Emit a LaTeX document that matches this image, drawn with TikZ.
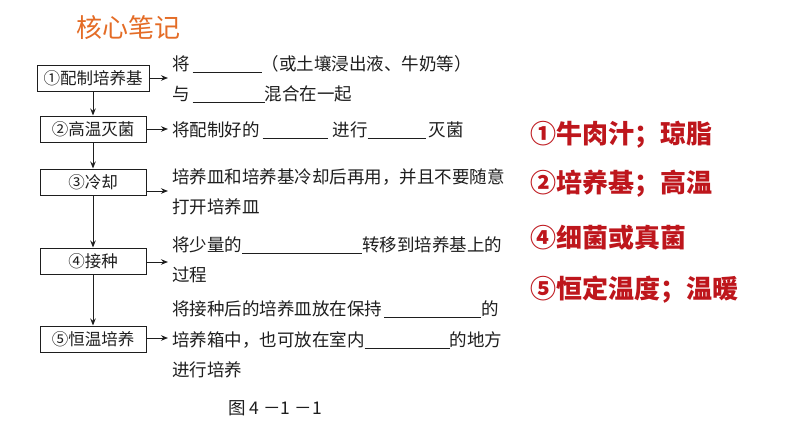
\documentclass[tikz,border=0pt]{standalone}
\usepackage{fontspec}
\newfontfamily\cjk{Noto Sans CJK SC}
\usetikzlibrary{arrows.meta}
\definecolor{titleorange}{RGB}{228,108,38}
\definecolor{ansred}{RGB}{190,22,28}
\definecolor{ink}{RGB}{30,30,30}
\newcommand{\blank}[1]{\rule[-2pt]{#1pt}{0.7pt}}

\begin{document}
\begin{tikzpicture}[x=1pt,y=-1pt,>={Stealth[length=7pt,width=5.5pt]},
    stepbox/.style={draw=ink,line width=1pt,minimum width=106pt,minimum height=26pt,inner sep=1pt,text=ink,font=\cjk\fontsize{16.5}{16.5}\selectfont},
    note/.style={anchor=west,inner sep=0pt,text=ink,font=\cjk\fontsize{17.5}{17.5}\selectfont},
    answer/.style={anchor=west,inner sep=0pt,text=ansred,font=\cjk\bfseries\fontsize{26}{26}\selectfont},
    link/.style={->,draw=ink,line width=1pt}]
            \useasboundingbox[fill=white] (0,0) rectangle (794,447);
            % title
            \node[anchor=west,inner sep=0pt,text=titleorange,font=\cjk\fontsize{26}{26}\selectfont] (title) at (76,28) {核心笔记};
            % steps
            \node[stepbox,minimum width=112pt] (s1) at (93,78) {①配制培养基};
            \node[stepbox] (s2) at (93,129) {②高温灭菌};
            \node[stepbox] (s3) at (93,182) {③冷却};
            \node[stepbox] (s4) at (93,261) {④接种};
            \node[stepbox] (s5) at (93,339) {⑤恒温培养};
            \draw[link] (s1) -- (s2);
            \draw[link] (s2) -- (s3);
            \draw[link] (s3) -- (s4);
            \draw[link] (s4) -- (s5);
            % arrow ends
            \coordinate (a1) at (168,78);
            \coordinate (a2) at (168,129);
            \coordinate (a3) at (168,191);
            \coordinate (a4) at (168,262);
            \coordinate (a5) at (168,338);
            \draw[link] (s1.east |- a1) -- (a1);
            \draw[link] (s2.east |- a2) -- (a2);
            \draw[link] (s3.east |- a3) -- (a3);
            \draw[link] (s4.east |- a4) -- (a4);
            \draw[link] (s5.east |- a5) -- (a5);
            % notes
            \node[note] (n1a) at (172,64) {将\hspace{3pt}\blank{69}（或土壤浸出液、牛奶等）};
            \node[note] (n1b) at (172,94) {与\hspace{3pt}\blank{72}混合在一起};
            \node[note] (n2) at (172,130) {将配制好的\hspace{3pt}\blank{65}\hspace{5pt}进行\blank{58}\hspace{3pt}灭菌};
            \node[note] (n3a) at (172,177) {培养皿和培养基冷却后再用，并且不要随意};
            \node[note] (n3b) at (172,207) {打开培养皿};
            \node[note] (n4a) at (172,245) {将少量的\blank{120}转移到培养基上的};
            \node[note] (n4b) at (172,275) {过程};
            \node[note] (n5a) at (172,309) {将接种后的培养皿放在保持\hspace{2pt}\blank{97}的};
            \node[note] (n5b) at (172,340) {培养箱中，也可放在室内\blank{85}的地方};
            \node[note] (n5c) at (172,370) {进行培养};
            % caption
            \node[note] (cap) at (228,408) {图\hspace{4pt}4\hspace{4pt}－1\hspace{4pt}－1};
            % answers
            \node[answer] (r1) at (530,135) {①牛肉汁；琼脂};
            \node[answer] (r2) at (530,184) {②培养基；高温};
            \node[answer] (r3) at (530,238) {④细菌或真菌};
            \node[answer] (r4) at (530,290) {⑤恒定温度；温暖};
\end{tikzpicture}
\end{document}
